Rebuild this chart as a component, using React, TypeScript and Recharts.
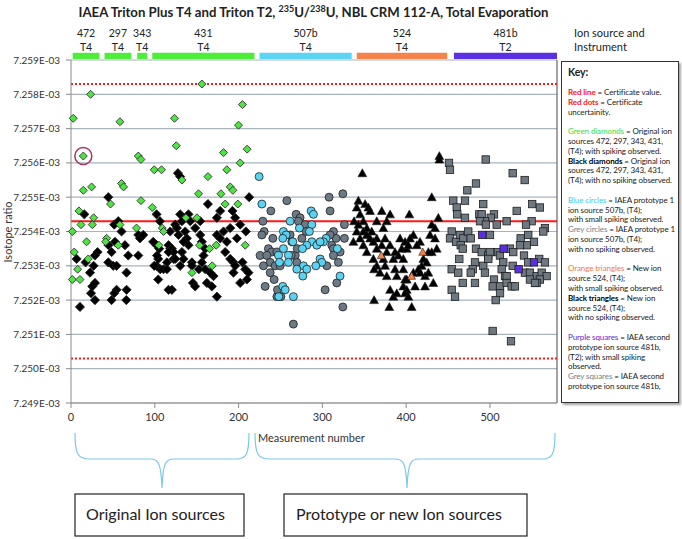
import React from 'react';
import {
  ScatterChart, Scatter, XAxis, YAxis, CartesianGrid,
  ReferenceLine, ReferenceArea, ReferenceDot,
} from 'recharts';

// axis ticks
const xTicks = [0, 100, 200, 300, 400, 500];
const yTicks = [7.249, 7.25, 7.251, 7.252, 7.253, 7.254, 7.255, 7.256, 7.257, 7.258, 7.259];

// certificate value and uncertainty (E-03)
const certValue = 7.2543;
const certUpper = 7.2583;
const certLower = 7.2503;

// ion sources shown as coloured bars above the plot
const sourceNames = ['472', '297', '343', '431', '507b', '524', '481b'];
const sourceInstr = ['T4', 'T4', 'T4', 'T4', 'T4', 'T4', 'T2'];
const sourceStart = [2, 40, 79, 97, 225, 341, 457];
const sourceEnd = [34, 72, 91, 219, 335, 449, 580];
const sourceColors = ['#4ded3a', '#4ded3a', '#4ded3a', '#4ded3a', '#5cd5f5', '#f5844a', '#5b2fe2'];

// measurement number, isotope ratio (E-03)
const greenDiamonds = [
  [23.4, 7.258], [2.7, 7.2573], [58.4, 7.2572], [14.7, 7.2562], [80.3, 7.2562], [83.5, 7.2561],
  [99.3, 7.2558], [108, 7.2558], [14.7, 7.2552], [24.6, 7.2553], [60.3, 7.2554], [62.7, 7.2553],
  [83.5, 7.2549], [97, 7.2547], [47.2, 7.2548], [9.5, 7.2546], [27, 7.2544], [11.9, 7.2542],
  [25.4, 7.2542], [1.6, 7.254], [58.4, 7.2542], [78.2, 7.2541], [18.6, 7.2537], [42.5, 7.2538],
  [41.3, 7.2537], [56.4, 7.2536], [3.9, 7.2534], [20.6, 7.2532], [7.9, 7.2529], [1.6, 7.2526],
  [10.7, 7.2526], [108.9, 7.2541], [104.9, 7.2536], [144.3, 7.2528], [153.4, 7.2536], [165.3, 7.2535],
  [168.5, 7.253], [173.3, 7.2536], [207.9, 7.2536], [156.2, 7.2583], [204.6, 7.2577], [123.5, 7.2573],
  [199.9, 7.2571], [125.6, 7.2565], [182, 7.2563], [210.2, 7.2564], [186, 7.2558], [201.9, 7.256],
  [132.4, 7.2555], [163.4, 7.2556], [190, 7.2553], [193.2, 7.2552], [152.2, 7.2551], [178.9, 7.2551],
  [184, 7.2548], [199.1, 7.2548], [137.1, 7.2544], [150.3, 7.2544], [110.4, 7.254],
];

const blackDiamonds = [
  [44.5, 7.255], [15.9, 7.2545], [102.1, 7.2545], [106.1, 7.2543], [51.6, 7.2542], [56.4, 7.2543],
  [60.3, 7.254], [80.3, 7.2539], [82.3, 7.2538], [86.2, 7.2539], [98.1, 7.2537], [102.1, 7.2536],
  [52.5, 7.2537], [64.4, 7.2536], [48.4, 7.2534], [68.3, 7.2533], [31.7, 7.2534], [28.6, 7.2533],
  [80.3, 7.2533], [104.1, 7.2532], [102.1, 7.253], [6.7, 7.2532], [44.5, 7.2531], [50.4, 7.253],
  [54.4, 7.253], [17.4, 7.2531], [22.7, 7.2528], [66.3, 7.2528], [104.1, 7.2526], [28.6, 7.2525],
  [25.4, 7.2524], [23.9, 7.2522], [54.4, 7.2523], [51.6, 7.2522], [66.3, 7.2523], [28.6, 7.252],
  [48.4, 7.252], [10.7, 7.2518], [66, 7.252], [27, 7.253], [44.8, 7.2536], [99.3, 7.253],
  [106.5, 7.2529], [110.4, 7.2529], [118.4, 7.2535], [122.4, 7.2532], [144.3, 7.2531], [120.4, 7.2523],
  [145.5, 7.2525], [148.2, 7.2524], [152.6, 7.2529], [162.2, 7.2525], [168.1, 7.2524], [174.1, 7.2521],
  [170.1, 7.2527], [184, 7.2534], [190, 7.2532], [193.9, 7.2528], [201.9, 7.2525], [209.9, 7.2526],
  [193.9, 7.2531], [127.6, 7.2557], [130.3, 7.2556], [212.6, 7.255], [163.4, 7.2548], [178, 7.2546],
  [174.1, 7.2544], [192.7, 7.2546], [195.9, 7.2544], [130.3, 7.2545], [132.4, 7.2543], [140.2, 7.2545],
  [142.3, 7.2543], [124.4, 7.2542], [126.4, 7.2541], [190, 7.2541], [201.9, 7.2542], [208.7, 7.254],
  [128.3, 7.2539], [136.3, 7.254], [138.3, 7.2538], [134.3, 7.2537], [140.2, 7.2536], [154.2, 7.2539],
  [156.2, 7.2537], [174.1, 7.2539], [182, 7.254], [178, 7.2538], [186, 7.2537], [198, 7.2538],
  [116.4, 7.2536], [120.4, 7.2535], [122.4, 7.2534], [116.4, 7.2534], [114.5, 7.2531], [114.5, 7.2529],
  [105.3, 7.2535], [102.6, 7.2533], [124.4, 7.2532], [132.4, 7.2534], [134.3, 7.2532], [130.3, 7.253],
  [160.2, 7.2535], [158.1, 7.2533], [156.2, 7.2531], [195.9, 7.253], [204.6, 7.2531], [207.9, 7.2529],
  [211.8, 7.2528], [144.3, 7.253], [160.2, 7.2529], [166.1, 7.2528], [116.4, 7.2523], [154.2, 7.2543],
  [148.2, 7.2541], [118.4, 7.254],
];

const greyCircles = [
  [257.6, 7.2549], [238.5, 7.2546], [308, 7.255], [324.4, 7.2551], [309.2, 7.2546], [229, 7.2543],
  [230.5, 7.254], [227.8, 7.2539], [240.9, 7.2538], [268.7, 7.2545], [273.4, 7.2544], [271.4, 7.2543],
  [326.3, 7.2542], [313.2, 7.254], [316.4, 7.2538], [309.2, 7.2539], [326.3, 7.2538], [261.5, 7.2539],
  [263.5, 7.2537], [275.5, 7.2538], [235.6, 7.2535], [239.7, 7.2534], [225.7, 7.2533], [233.7, 7.2533],
  [237.7, 7.2531], [229.7, 7.253], [243.6, 7.253], [267.5, 7.2533], [269.5, 7.2531], [311.2, 7.2536],
  [313.2, 7.2535], [321.1, 7.2534], [319.1, 7.2531], [305.3, 7.253], [237.7, 7.2528], [242.4, 7.2526],
  [231.7, 7.2524], [245.7, 7.2521], [250.4, 7.2521], [303.3, 7.2523], [317.2, 7.2525], [324.4, 7.2518],
  [265.4, 7.2513], [279.4, 7.2542], [280.6, 7.254], [249.6, 7.253], [262.7, 7.2533], [270, 7.2535],
  [313.2, 7.2533], [246.4, 7.2523], [245.7, 7.2534],
];

const blueCircles = [
  [224.5, 7.2556], [227.8, 7.2548], [261.5, 7.2543], [286.6, 7.2546], [289.3, 7.2545], [287.4, 7.2542],
  [284.5, 7.254], [272.6, 7.2541], [253.5, 7.254], [256.7, 7.2539], [252.8, 7.2538], [264.7, 7.2537],
  [287.4, 7.2537], [281.4, 7.2536], [276.2, 7.2535], [304.4, 7.2538], [301.2, 7.2537], [293.4, 7.2536],
  [297.3, 7.2537], [317.9, 7.2535], [253.5, 7.2535], [247.6, 7.2533], [259.5, 7.2533], [259.5, 7.2531],
  [248.8, 7.2531], [277.4, 7.253], [281.4, 7.2529], [269.5, 7.2529], [297.3, 7.2532], [299.3, 7.2531],
  [292.2, 7.253], [276.7, 7.2527], [321.1, 7.2527], [252.8, 7.2524], [248, 7.2521], [255.6, 7.2523],
  [265.4, 7.2521],
];

const blackTriangles = [
  [347.7, 7.2557], [343, 7.2549], [351, 7.2548], [341, 7.2547], [354.9, 7.2547], [356.9, 7.2546],
  [345, 7.2545], [370.9, 7.2546], [380.8, 7.2545], [337.8, 7.2543], [343, 7.2542], [348.9, 7.2543],
  [353, 7.2541], [364.9, 7.2543], [376.8, 7.2543], [341, 7.254], [348.9, 7.254], [358.9, 7.254],
  [372.8, 7.2541], [337, 7.2537], [345, 7.2538], [353, 7.2539], [356.9, 7.2538], [364.9, 7.2538],
  [374.8, 7.2538], [348.9, 7.2536], [360.9, 7.2537], [370.9, 7.2536], [380.8, 7.2536], [392.7, 7.2538],
  [398.7, 7.2537], [353, 7.2534], [364.9, 7.2535], [376.8, 7.2534], [386.7, 7.2534], [394.7, 7.2535],
  [400.7, 7.2535], [360.9, 7.2532], [372.8, 7.2532], [384.7, 7.2532], [390.7, 7.2533], [396.6, 7.2532],
  [364.9, 7.253], [374.8, 7.253], [386.7, 7.2529], [396.6, 7.2529], [368.8, 7.2528], [376.8, 7.2527],
  [388.8, 7.2527], [398.7, 7.2526], [380.8, 7.2523], [384.7, 7.2521], [388.8, 7.2522], [396.6, 7.2524],
  [361.7, 7.252], [379.9, 7.2518], [439.6, 7.2562], [439.6, 7.2561], [430.5, 7.255], [403.8, 7.2545],
  [438.4, 7.2544], [430.5, 7.2542], [434.4, 7.2541], [408.6, 7.2539], [404.6, 7.2538], [428.5, 7.2539],
  [434.4, 7.2538], [416.5, 7.2537], [412.6, 7.2536], [402.6, 7.2536], [436.5, 7.2535], [430.5, 7.2534],
  [426.5, 7.2534], [420.5, 7.2532], [424.5, 7.2531], [418.5, 7.253], [414.5, 7.2529], [408.6, 7.2528],
  [416.5, 7.2528], [422.5, 7.2527], [426.5, 7.2528], [400.7, 7.2526], [410.6, 7.2524], [422.5, 7.2524],
  [432.4, 7.2525], [400.7, 7.2523], [398.7, 7.2522], [402.6, 7.2521], [406.6, 7.2518], [361.7, 7.2529],
];

const orangeTriangles = [[370.3, 7.2533], [419.8, 7.2534], [406.4, 7.2527]];

const greySquares = [
  [494.9, 7.2561], [451.1, 7.256], [452.3, 7.2558], [527.1, 7.2557], [541.4, 7.2555], [483.3, 7.2554],
  [473, 7.2552], [456.2, 7.2549], [470.2, 7.2549], [492, 7.2548], [550.4, 7.2548], [559.6, 7.2547],
  [460.3, 7.2547], [461, 7.2545], [487.3, 7.2545], [490.1, 7.2545], [504.8, 7.2545], [500.9, 7.2544],
  [508, 7.2542], [531.9, 7.2546], [470.2, 7.2544], [519.9, 7.2543], [494, 7.2543], [488.1, 7.2543],
  [495.2, 7.2542], [549.7, 7.2543], [543, 7.2542], [565.6, 7.2541], [563.6, 7.254], [454.3, 7.254],
  [452.3, 7.2538], [459.5, 7.2537], [464.2, 7.2539], [468.2, 7.2538], [474.1, 7.254], [477, 7.2538],
  [500, 7.2539], [536.6, 7.2538], [545.7, 7.2539], [552.5, 7.2537], [543.8, 7.2536], [535.8, 7.2536],
  [465.1, 7.2536], [467.5, 7.2535], [483.3, 7.2535], [490.1, 7.2534], [498, 7.2533], [500, 7.2534],
  [509.9, 7.2534], [511.9, 7.2533], [515.9, 7.2531], [523.9, 7.2535], [527.8, 7.2534], [463.4, 7.2532],
  [482.1, 7.2531], [492, 7.253], [498, 7.2532], [540.6, 7.2533], [545.7, 7.2531], [558.8, 7.2532],
  [565.6, 7.2531], [527.1, 7.253], [541.7, 7.2528], [547.7, 7.2528], [555.7, 7.2527], [454.3, 7.2529],
  [462.2, 7.2528], [479.4, 7.2529], [477, 7.2528], [494, 7.2528], [514, 7.2529], [517.9, 7.2527],
  [519.9, 7.2527], [561.7, 7.2528], [567.6, 7.2527], [559.6, 7.2526], [555.7, 7.2525], [547.7, 7.2526],
  [553.7, 7.2525], [504.8, 7.2526], [503.2, 7.2524], [512, 7.2524], [519.9, 7.2525], [525.9, 7.2524],
  [529.8, 7.2524], [467.5, 7.2525], [482.1, 7.2525], [454.3, 7.2523], [458.3, 7.2521], [512, 7.2522],
  [506.8, 7.252], [503.2, 7.2511], [525.1, 7.2508],
];

const purpleSquares = [[490.8, 7.2539], [516.3, 7.2535], [552.5, 7.2531], [534.2, 7.2529]];

// spiking example circled in the original
const circledPoint = [14.7, 7.2562];

const toPoints = (rows: number[][]) => rows.map(([x, y]) => ({ x, y }));

const EDGE = '#1e1e1e';

const diamond = (fill: string, h: number) => (p: any) => {
  const { cx, cy } = p;
  return <path d={`M${cx},${cy - h}L${cx + h},${cy}L${cx},${cy + h}L${cx - h},${cy}Z`} fill={fill} stroke={EDGE} strokeWidth={0.8} />;
};
const circle = (fill: string, r: number) => (p: any) => (
  <circle cx={p.cx} cy={p.cy} r={r} fill={fill} stroke={EDGE} strokeWidth={0.8} />
);
const triangle = (fill: string, h: number) => (p: any) => {
  const { cx, cy } = p;
  return <path d={`M${cx},${cy - h}L${cx + h},${cy + h * 0.8}L${cx - h},${cy + h * 0.8}Z`} fill={fill} stroke={EDGE} strokeWidth={0.6} />;
};
const square = (fill: string, h: number) => (p: any) => (
  <rect x={p.cx - h} y={p.cy - h} width={h * 2} height={h * 2} fill={fill} stroke={EDGE} strokeWidth={0.8} />
);

const SourceLabel = ({ viewBox, name, inst }: any) => {
  if (!viewBox) return null;
  const cx = viewBox.x + viewBox.width / 2;
  return (
    <g fontSize={10.5} fill="#222" textAnchor="middle">
      <text x={cx} y={viewBox.y - 20} dominantBaseline="central">{name}</text>
      <text x={cx} y={viewBox.y - 6} dominantBaseline="central">{inst}</text>
    </g>
  );
};

const keyLines: { parts: [string, string?, boolean?][] }[] = [
  { parts: [['Red line', '#ff1a1a', true], [' = Certificate  value.']] },
  { parts: [['Red dots', '#ff1a1a', true], [' =  Certificate']] },
  { parts: [['uncertainity.']] },
  { parts: [] },
  { parts: [['Green diamonds', '#38e038'], [' = Original ion']] },
  { parts: [['sources 472, 297, 343, 431,']] },
  { parts: [['(T4); with spiking observed.']] },
  { parts: [['Black diamonds', '#000', true], [' = Original ion']] },
  { parts: [['sources 472, 297, 343, 431,']] },
  { parts: [['(T4); with no spiking observed.']] },
  { parts: [] },
  { parts: [['Blue circles', '#3fc9f0'], [' = IAEA prototype 1']] },
  { parts: [['ion source 507b, (T4);']] },
  { parts: [['with small spiking observed.']] },
  { parts: [['Grey circles', '#6f7f8a'], [' = IAEA prototype 1']] },
  { parts: [['ion source 507b, (T4);']] },
  { parts: [['with no spiking observed.']] },
  { parts: [] },
  { parts: [['Orange triangles', '#f27a3c'], [' = New ion']] },
  { parts: [['source 524, (T4);']] },
  { parts: [['with small spiking observed.']] },
  { parts: [['Black triangles', '#000', true], [' = New ion']] },
  { parts: [['source 524, (T4);']] },
  { parts: [['with no spiking observed.']] },
  { parts: [] },
  { parts: [['Purple squares', '#5a2bd0'], [' = IAEA second']] },
  { parts: [['prototype ion source 481b,']] },
  { parts: [['(T2); with small spiking']] },
  { parts: [['observed.']] },
  { parts: [['Grey squares', '#6f7f8a'], [' = IAEA second']] },
  { parts: [['prototype ion source 481b,']] },
];

const FONT = 'Lato, "Open Sans", sans-serif';

export default function App() {
  return (
    <div style={{ position: 'absolute', left: 0, top: 0, width: 682, height: 539, background: '#fff', fontFamily: FONT, color: '#222', overflow: 'hidden' }}>
      <div style={{ position: 'absolute', left: 0, top: 3, width: 627, textAlign: 'center', fontSize: 13.2, fontWeight: 700, whiteSpace: 'nowrap', lineHeight: '18px' }}>
        IAEA Triton Plus T4 and Triton T2, <sup style={{ fontSize: 9, lineHeight: 0 }}>235</sup>U/<sup style={{ fontSize: 9, lineHeight: 0 }}>238</sup>U, NBL CRM 112-A, Total Evaporation
      </div>
      <div style={{ position: 'absolute', left: 574, top: 26, fontSize: 11, lineHeight: '14px' }}>
        Ion source and<br />Instrument
      </div>

      <div style={{ position: 'absolute', left: 0, top: 0 }}>
        <ScatterChart width={562} height={445} margin={{ top: 60, right: 5, bottom: 12, left: 5 }}>
          <CartesianGrid vertical={false} stroke="#a9b4bf" strokeWidth={1.2} />
          <XAxis
            type="number" dataKey="x" domain={[0, 580]} ticks={xTicks}
            axisLine={{ stroke: '#8a8a8a' }} tickLine={{ stroke: '#8a8a8a' }} tickSize={5} tickMargin={5}
            tick={{ fill: '#333', fontSize: 11, fontFamily: FONT }} height={30}
          />
          <YAxis
            type="number" dataKey="y" domain={[7.249, 7.259]} ticks={yTicks} width={66}
            tickFormatter={(v: number) => `${v.toFixed(3)}E-03`}
            axisLine={{ stroke: '#8a8a8a' }} tickLine={{ stroke: '#8a8a8a' }} tickSize={5} tickMargin={6}
            tick={{ fill: '#333', fontSize: 10, fontFamily: FONT }}
          />
          <ReferenceLine x={580} stroke="#666" strokeWidth={1.2} />
          <ReferenceLine y={certValue} stroke="#ff1a1a" strokeWidth={2} />
          <ReferenceLine y={certUpper} stroke="#ff1a1a" strokeWidth={2} strokeDasharray="2 2" />
          <ReferenceLine y={certLower} stroke="#ff1a1a" strokeWidth={2} strokeDasharray="2 2" />
          {sourceNames.map((n, i) => (
            <ReferenceArea
              key={n}
              x1={sourceStart[i]} x2={sourceEnd[i]} y1={7.25903} y2={7.25921}
              ifOverflow="visible" fill={sourceColors[i]} fillOpacity={1} stroke="none"
              label={(props: any) => <SourceLabel {...props} name={n} inst={sourceInstr[i]} />}
            />
          ))}
          <Scatter data={toPoints(blackDiamonds)} shape={diamond('#000', 4.6)} isAnimationActive={false} />
          <Scatter data={toPoints(greenDiamonds)} shape={diamond('#4fe444', 4)} isAnimationActive={false} />
          <Scatter data={toPoints(greyCircles)} shape={circle('#6b7a85', 4)} isAnimationActive={false} />
          <Scatter data={toPoints(blueCircles)} shape={circle('#5ad3f2', 4)} isAnimationActive={false} />
          <Scatter data={toPoints(blackTriangles)} shape={triangle('#000', 4.4)} isAnimationActive={false} />
          <Scatter data={toPoints(orangeTriangles)} shape={triangle('#f2844a', 4)} isAnimationActive={false} />
          <Scatter data={toPoints(greySquares)} shape={square('#6e7880', 3.7)} isAnimationActive={false} />
          <Scatter data={toPoints(purpleSquares)} shape={square('#5a2fe0', 3.7)} isAnimationActive={false} />
          <ReferenceDot x={circledPoint[0]} y={circledPoint[1]} r={8.5} fill="none" stroke="#b0305c" strokeWidth={1.5} />
        </ScatterChart>
      </div>

      <div style={{ position: 'absolute', left: 561, top: 61, width: 118, height: 342, border: '1.5px solid #333', boxShadow: '2px 2px 2px rgba(0,0,0,0.35)', background: '#fff', fontSize: 8, lineHeight: '9.8px', paddingLeft: 6, boxSizing: 'border-box', whiteSpace: 'nowrap', letterSpacing: -0.1 }}>
        <div style={{ marginTop: 4, fontSize: 10.5, fontWeight: 700, lineHeight: '12px' }}>Key:</div>
        <div style={{ marginTop: 10 }}>
          {keyLines.map((l, i) => (
            <div key={i} style={{ height: 9.8 }}>
              {l.parts.map(([t, c, b], j) => (
                <span key={j} style={{ color: c || '#222', fontWeight: b ? 700 : 400 }}>{t}</span>
              ))}
            </div>
          ))}
        </div>
      </div>

      <svg width={682} height={539} style={{ position: 'absolute', left: 0, top: 0, pointerEvents: 'none' }}>
        <text x={7} y={232} transform="rotate(-90 7 232)" textAnchor="middle" dominantBaseline="central" fontSize={11} fill="#333" fontFamily={FONT}>Isotope ratio</text>
        <text x={258} y={437} dominantBaseline="central" fontSize={11} fill="#333" fontFamily={FONT}>Measurement number</text>
        <g fill="none" stroke="#7cc7ee" strokeWidth={1.2}>
          <path d="M75,433 C75,455 78,459 90,459 L150,459 C158,459 161,462 162,488 C163,462 166,459 174,459 L236,459 C246,459 249,455 249,433" />
          <path d="M255,433 C255,455 258,459 270,459 L395,459 C403,459 406,462 407,488 C408,462 411,459 419,459 L542,459 C552,459 555,455 555,433" />
        </g>
        <rect x={75} y={494} width={169} height={42} fill="#fff" stroke="#222" strokeWidth={1.2} />
        <rect x={284} y={494} width={243} height={42} fill="#fff" stroke="#222" strokeWidth={1.2} />
        <text x={86} y={513} dominantBaseline="central" fontSize={16} fill="#222" fontFamily={FONT}>Original Ion sources</text>
        <text x={296} y={513} dominantBaseline="central" fontSize={16} fill="#222" fontFamily={FONT}>Prototype or new  Ion sources</text>
      </svg>
    </div>
  );
}
